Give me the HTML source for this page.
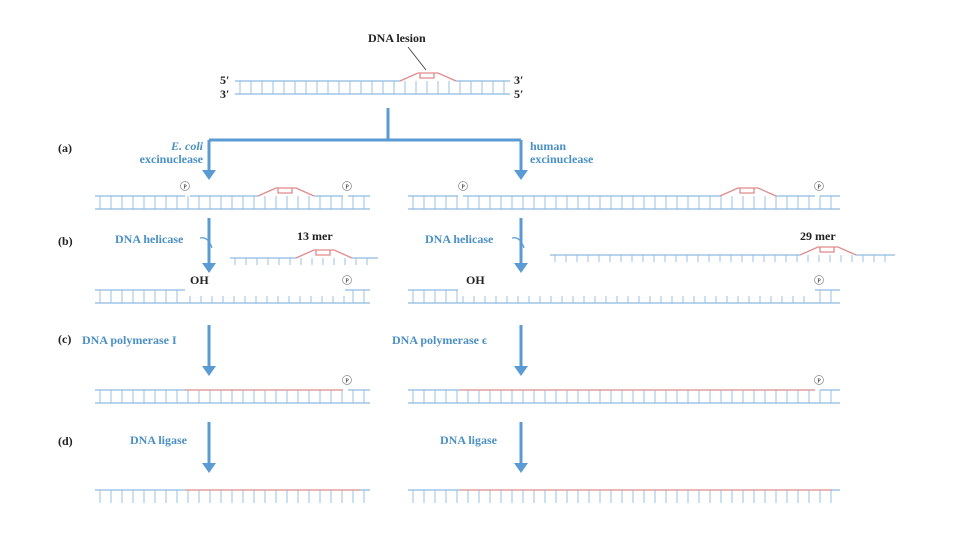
<!DOCTYPE html>
<html><head><meta charset="utf-8"><style>
html,body{margin:0;padding:0;background:#fff;width:960px;height:550px;overflow:hidden}
svg{display:block}
.lb{font-family:"Liberation Serif",serif;font-weight:bold;font-size:12px;fill:#4a90c4}
.bk{font-family:"Liberation Serif",serif;font-weight:bold;font-size:12px;fill:#222}
</style></head><body>
<svg id="s" width="960" height="550" viewBox="0 0 960 550">
<g id="dna"></g>
<g stroke="#5a9bd3" stroke-width="3" fill="none">
<path d="M388 108V140M209 140H521M209 140V172M521 140V172"/>
<path d="M209 218V265M521 218V265M209 325V368M521 325V368M209 422V465M521 422V465"/>
<path d="M200 238q8 -2 12 10M512 238q8 -2 12 10" stroke-width="1.2"/>
</g>
<g fill="#5a9bd3">
<path d="M202 170h14l-7 10z"/><path d="M514 170h14l-7 10z"/>
<path d="M202 263h14l-7 10z"/><path d="M514 263h14l-7 10z"/>
<path d="M202 366h14l-7 10z"/><path d="M514 366h14l-7 10z"/>
<path d="M202 463h14l-7 10z"/><path d="M514 463h14l-7 10z"/>
</g>
<text class="bk" x="368" y="42">DNA lesion</text>
<path d="M408 47L426 70" stroke="#333" stroke-width="0.8"/>
<text class="bk" x="220" y="84">5′</text>
<text class="bk" x="220" y="98">3′</text>
<text class="bk" x="514" y="84">3′</text>
<text class="bk" x="514" y="98">5′</text>
<text class="bk" x="58" y="152">(a)</text>
<text class="bk" x="58" y="245">(b)</text>
<text class="bk" x="58" y="343">(c)</text>
<text class="bk" x="58" y="445">(d)</text>
<text class="lb" x="203" y="150" text-anchor="end" font-style="italic">E. coli</text>
<text class="lb" x="203" y="163" text-anchor="end">excinuclease</text>
<text class="lb" x="530" y="150">human</text>
<text class="lb" x="530" y="163">excinuclease</text>
<text class="lb" x="115" y="243">DNA helicase</text>
<text class="lb" x="425" y="243">DNA helicase</text>
<text class="bk" x="297" y="240" font-size="15" font-weight="normal">13 mer</text>
<text class="bk" x="800" y="240" font-size="15" font-weight="normal">29 mer</text>
<text class="lb" x="82" y="344">DNA polymerase I</text>
<text class="lb" x="392" y="344">DNA polymerase ϵ</text>
<text class="lb" x="130" y="444" font-weight="normal">DNA ligase</text>
<text class="lb" x="440" y="444" font-weight="normal">DNA ligase</text>
<text class="bk" x="190" y="284" font-size="8">OH</text>
<text class="bk" x="466" y="284" font-size="8">OH</text>
</svg>
<script>
const NS="http://www.w3.org/2000/svg";
const g=document.getElementById('dna');
const B="#8dbbe0",R="#e08a8a";
function ln(x1,y1,x2,y2,c,w){const e=document.createElementNS(NS,'line');
e.setAttribute('x1',x1);e.setAttribute('y1',y1);e.setAttribute('x2',x2);e.setAttribute('y2',y2);
e.setAttribute('stroke',c);e.setAttribute('stroke-width',w||1.3);


g.appendChild(e);}
function pth(d,c){const e=document.createElementNS(NS,'path');e.setAttribute('d',d);e.setAttribute('stroke',c);e.setAttribute('fill','none');e.setAttribute('stroke-width',1.3);


g.appendChild(e);}
function rungs(x1,x2,y1,y2,c){for(let x=x1+5;x<x2;x+=11)ln(x,y1,x,y2,c||B,0.9);}
function lesion(x,y){pth(`M${x} ${y}L${x+18} ${y-8}H${x+38}L${x+56} ${y}`,R);
pth(`M${x+20} ${y-8}v5h14v-5`,R);}
function P(x,y){const c=document.createElementNS(NS,'circle');c.setAttribute('cx',x);c.setAttribute('cy',y);c.setAttribute('r',4.5);c.setAttribute('fill','#fff');c.setAttribute('stroke','#888');c.setAttribute('stroke-width',0.7);


g.appendChild(c);
const t=document.createElementNS(NS,'text');t.setAttribute('x',x);t.setAttribute('y',y+2.5);t.setAttribute('font-size',6);t.setAttribute('text-anchor','middle');t.setAttribute('font-family','Liberation Serif');t.textContent='P';


g.appendChild(t);}
// top duplex
ln(235,81,400,81,B);ln(456,81,510,81,B);lesion(400,81);ln(235,94,510,94,B);rungs(235,510,81,94);
// (a)
ln(95,196,185,196,B);ln(190,196,258,196,B);lesion(258,196);ln(314,196,343,196,B);ln(348,196,370,196,B);ln(95,209,370,209,B);rungs(95,370,196,209);
P(185,186);P(347,186);
ln(408,196,458,196,B);ln(463,196,720,196,B);lesion(720,196);ln(776,196,815,196,B);ln(820,196,840,196,B);ln(408,209,840,209,B);rungs(408,840,196,209);
P(463,186);P(819,186);
// (b) fragments
ln(230,258,296,258,B);lesion(296,258);ln(352,258,378,258,B);rungs(230,378,258,265);
ln(550,255,800,255,B);lesion(800,255);ln(856,255,895,255,B);rungs(550,895,255,262);
// (b) gapped duplexes
ln(95,290,185,290,B);ln(345,290,370,290,B);ln(95,303,370,303,B);rungs(95,185,290,303);rungs(185,348,296,303);rungs(348,370,290,303);
ln(408,290,458,290,B);ln(815,290,840,290,B);ln(408,303,840,303,B);rungs(408,458,290,303);rungs(458,815,296,303);rungs(815,840,290,303);
P(347,280);P(819,280);
// (c)
ln(95,390,185,390,B);ln(185,390,343,390,R);ln(348,390,370,390,B);ln(95,403,370,403,B);rungs(95,370,390,403);
ln(408,390,460,390,B);ln(460,390,815,390,R);ln(820,390,840,390,B);ln(408,403,840,403,B);rungs(408,840,390,403);
P(347,380);P(819,380);
// (d)
ln(95,490,185,490,B);ln(185,490,360,490,R);ln(360,490,370,490,B);rungs(95,370,490,503);
ln(408,490,460,490,B);ln(460,490,832,490,R);ln(832,490,840,490,B);rungs(408,840,490,503);
</script>
</body></html>
